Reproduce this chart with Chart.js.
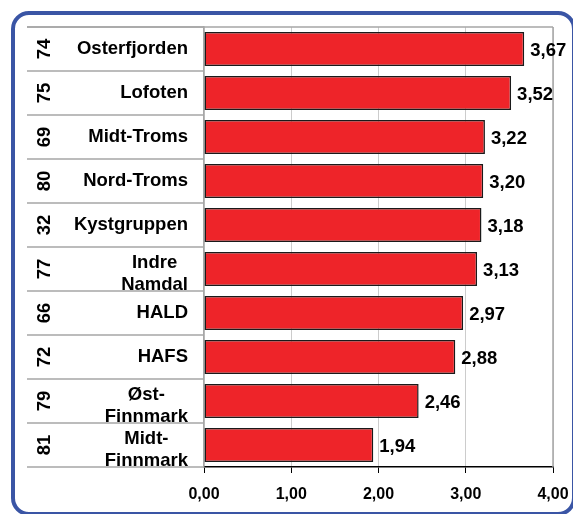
<!DOCTYPE html>
<html>
<head>
<meta charset="utf-8">
<script src="https://cdn.jsdelivr.net/npm/chart.js@4.4.1/dist/chart.umd.min.js"></script>
<style>
  body { margin: 0; background: #fff; }
  #wrap { position: relative; width: 573px; height: 514px; overflow: hidden; }
  #frame {
    position: absolute; left: 11px; top: 11px; width: 557px; height: 497px;
    border: 4px solid #3a55a5; border-radius: 18px; pointer-events: none;
  }
</style>
</head>
<body>
<div id="wrap">
  <canvas id="chart" width="573" height="514"></canvas>
  <div id="frame"></div>
</div>
<script>
const codes = ["74", "75", "69", "80", "32", "77", "66", "72", "79", "81"];
const names = [
  ["Osterfjorden"], ["Lofoten"], ["Midt-Troms"], ["Nord-Troms"], ["Kystgruppen"],
  ["Indre", "Namdal"], ["HALD"], ["HAFS"], ["Øst-", "Finnmark"], ["Midt-", "Finnmark"]
];
const values = [3.67, 3.52, 3.22, 3.20, 3.18, 3.13, 2.97, 2.88, 2.46, 1.94];
const xTicks = [0, 1, 2, 3, 4];

const FONT = "Liberation Sans, Arial, sans-serif";
const fmt = (v) => v.toFixed(2).replace(".", ",");

// labels, row lines and value labels drawn around the bars
const tablePlugin = {
  id: "table",
  beforeDatasetsDraw(chart) {
    const { ctx, chartArea, scales } = chart;
    const y = scales.y;
    const step = y.getPixelForValue(1) - y.getPixelForValue(0);
    ctx.save();
    ctx.strokeStyle = "#a6a6a6";
    ctx.lineWidth = 1.5;
    // top border and right border of plot
    ctx.beginPath();
    ctx.moveTo(27, chartArea.top);
    ctx.lineTo(chartArea.right, chartArea.top);
    ctx.moveTo(scales.x.getPixelForValue(xTicks[xTicks.length - 1]), chartArea.top);
    ctx.lineTo(scales.x.getPixelForValue(xTicks[xTicks.length - 1]), chartArea.bottom);
    ctx.stroke();
    // row separators in the label area
    ctx.beginPath();
    for (let i = 0; i <= names.length; i++) {
      const py = y.getPixelForValue(i) - step / 2;
      ctx.moveTo(27, py);
      ctx.lineTo(chartArea.left, py);
    }
    ctx.stroke();

    ctx.fillStyle = "#000";
    ctx.font = "bold 18.5px " + FONT;
    names.forEach((lines, i) => {
      const cy = y.getPixelForValue(i);
      // rotated code
      ctx.save();
      ctx.translate(45, cy);
      ctx.rotate(-Math.PI / 2);
      ctx.textAlign = "center";
      ctx.textBaseline = "middle";
      ctx.fillText(codes[i], 0, 0);
      ctx.restore();
      // name
      ctx.textBaseline = "middle";
      if (lines.length === 1) {
        ctx.textAlign = "right";
        ctx.fillText(lines[0], 188, cy);
      } else {
        const w = Math.max(...lines.map((l) => ctx.measureText(l).width));
        ctx.textAlign = "center";
        ctx.fillText(lines[0], 188 - w / 2, cy - 6);
        ctx.fillText(lines[1], 188 - w / 2, cy + 16);
      }
    });
    ctx.restore();
  },
  afterDatasetsDraw(chart) {
    const { ctx } = chart;
    const meta = chart.getDatasetMeta(0);
    ctx.save();
    ctx.fillStyle = "#000";
    ctx.font = "bold 18.5px " + FONT;
    ctx.textAlign = "left";
    ctx.textBaseline = "middle";
    meta.data.forEach((bar, i) => {
      ctx.fillText(fmt(values[i]), bar.x + 6, bar.y + 2);
    });
    ctx.restore();
  }
};

new Chart(document.getElementById("chart"), {
  type: "bar",
  data: {
    labels: names.map((n) => n.join(" ")),
    datasets: [
      {
        data: values,
        backgroundColor: "#ee2429",
        borderColor: "#1a1a1a",
        borderWidth: 1.5,
        borderSkipped: false,
        barPercentage: 0.77,
        categoryPercentage: 1,
      },
    ],
  },
  options: {
    indexAxis: "y",
    responsive: false,
    animation: false,
    layout: { padding: { left: 0, top: 27, right: 20, bottom: 0 } },
    plugins: { legend: { display: false }, tooltip: { enabled: false } },
    scales: {
      x: {
        min: 0,
        max: 4,
        afterBuildTicks: (scale) => {
          scale.ticks = xTicks.map((v) => ({ value: v }));
        },
        ticks: {
          callback: (v) => fmt(v),
          font: { family: FONT, size: 16, weight: "bold" },
          color: "#000",
          padding: 12,
          maxRotation: 0,
        },
        grid: { color: "#cccccc", tickColor: "#000", tickLength: 6, lineWidth: 1 },
        border: { color: "#000", width: 1.5 },
        afterFit: (scale) => {
          scale.height = 47;
          scale.paddingLeft = 0;
          scale.paddingRight = 0;
        },
      },
      y: {
        ticks: { display: false },
        grid: { display: false },
        border: { color: "#a6a6a6", width: 1.5 },
        afterFit: (scale) => { scale.width = 204; },
      },
    },
  },
  plugins: [tablePlugin],
});
</script>
</body>
</html>
